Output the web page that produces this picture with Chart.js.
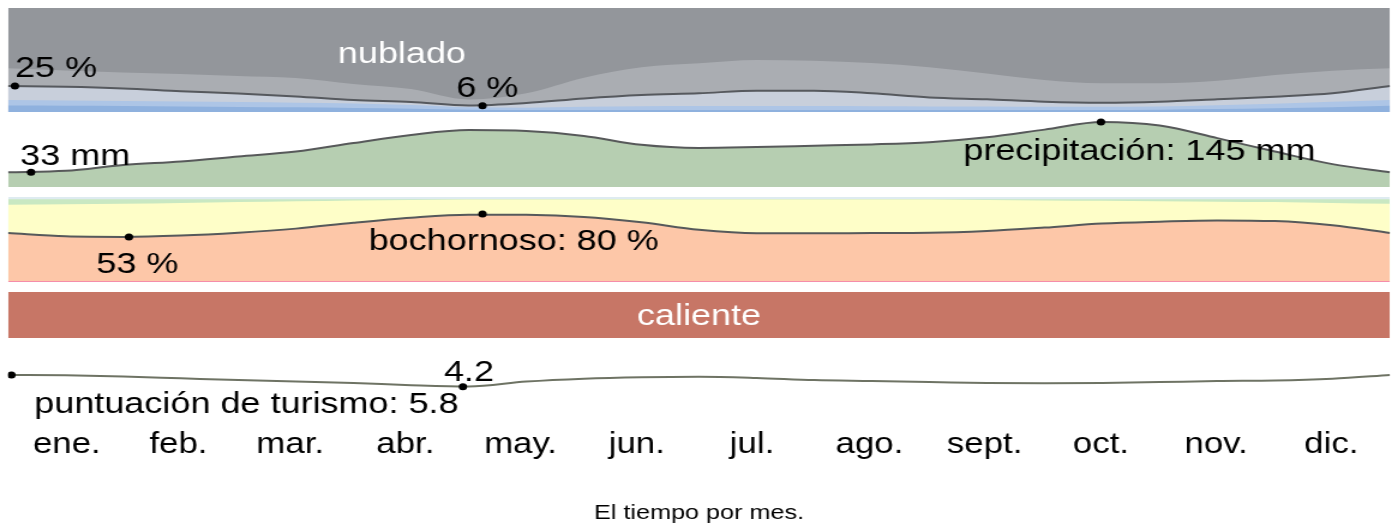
<!DOCTYPE html>
<html lang="es">
<head>
<meta charset="UTF-8">
<title>El tiempo por mes</title>
<script src="https://cdn.jsdelivr.net/npm/chart.js"></script>
<style>
  html, body { margin: 0; padding: 0; background: #fff; overflow: hidden; }
  #wrap { width: 1398px; height: 527px; }
  /* the source picture is stretched sideways, so the canvas gets the same stretch */
  #chart { transform: scaleX(1.2); transform-origin: 0 0; }
</style>
</head>
<body>
<div id="wrap"><canvas id="chart" width="1165" height="527"></canvas></div>
<script>
  // --- data (x in months, 0 = 1 Jan, 12 = 31 Dec) ---
  const months = ['ene.', 'feb.', 'mar.', 'abr.', 'may.', 'jun.', 'jul.', 'ago.', 'sept.', 'oct.', 'nov.', 'dic.'];
  const monthMid = [0.51, 1.48, 2.45, 3.45, 4.45, 5.46, 6.46, 7.48, 8.48, 9.49, 10.49, 11.49];
  const grid = [0, 0.5, 1, 1.5, 2, 2.5, 3, 3.5, 4, 4.5, 5, 5.5, 6, 6.5, 7, 7.5, 8, 8.5, 9, 9.5, 10, 10.5, 11, 11.5, 12];
  const yearEnds = [0, 12];

  // cloud cover, cumulative % from the bottom
  const cloudClear       = [6.2, 6.0, 5.8, 5.3, 4.8, 4.5, 3.8, 3.2, 2.2, 2.0, 2.0, 2.0, 2.0, 2.0, 2.0, 2.0, 2.0, 2.0, 2.0, 2.0, 2.2, 2.8, 3.6, 4.6, 6.0];
  const cloudMostlyClear = [11.5, 11, 10.6, 10, 9.6, 9, 8.2, 6.7, 4.5, 4.2, 5.0, 5.5, 5.8, 5.8, 5.8, 5.6, 5.4, 5.2, 5.0, 5.0, 5.2, 6.5, 8.0, 9.8, 11.5];
  const cloudPartly      = [25, 24.2, 22.6, 20, 17.8, 15, 11.5, 9.6, 6.3, 8.6, 13, 16.3, 18, 20.5, 20.5, 18, 14, 12.2, 9.9, 9.0, 9.9, 12.2, 14.7, 18, 25];
  const cloudMostly      = [42, 40, 38, 36.5, 34.6, 32.7, 27, 22, 12, 18, 33, 43, 46.8, 50, 49.3, 47, 43, 37, 30.8, 27.6, 27.6, 30, 35.6, 39.7, 42];
  const cloudOvercast    = [100, 100];

  // rain, mm
  const rainMm = [33, 36, 49, 57, 68, 79, 98, 116, 127, 125, 114, 94, 87, 89, 92, 95, 100, 111, 128, 145, 137, 109, 79, 51, 33];

  // humidity comfort, cumulative % from the bottom
  const humMiserable = [1, 1];
  const humMuggy     = [57.6, 53.7, 53, 54.6, 58, 62.8, 69.8, 75.7, 79.2, 79, 76.6, 70.2, 61.4, 57.3, 57.3, 57.6, 57.9, 60, 64, 68.7, 71, 72.5, 71.7, 66.7, 57.6];
  const humComfort   = [91, 91.5, 92, 93, 94, 95, 96, 96.5, 97, 97, 97, 97, 97, 97, 97, 97, 97, 96.5, 96, 95.5, 95, 94.5, 94, 93, 92];
  const humDry       = [97.5, 97.5];
  const humTop       = [100, 100];

  // temperature band ("caliente" all year)
  const hotBand = [1, 1];

  // tourism score
  const tourism = [5.8, 5.75, 5.6, 5.35, 5.1, 4.9, 4.7, 4.4, 4.22, 4.9, 5.3, 5.5, 5.57, 5.4, 5.1, 4.98, 4.85, 4.7, 4.66, 4.7, 4.83, 4.98, 5.05, 5.3, 5.8];

  // min / max markers: [month, value]
  const cloudMarks = [[0.06, 25], [4.12, 6]];
  const rainMarks = [[0.2, 33], [9.49, 145]];
  const humMarks = [[1.05, 53], [4.12, 80]];
  const tourMarks = [[0.03, 5.8], [3.95, 4.2]];

  // --- layout of the bands (pixels inside the canvas) ---
  const PLOT_TOP = 8, PLOT_BOTTOM = 392;
  function bandRange(topPx, botPx, lo, hi) {
    const s = (botPx - topPx) / (hi - lo);
    return { min: lo - (PLOT_BOTTOM - botPx) / s, max: hi + (topPx - PLOT_TOP) / s };
  }

  const FONT = '"Liberation Sans", Arial, sans-serif';
  const bigFont = '30px ' + FONT;

  const pts = (xs, ys) => ys.map((v, i) => ({ x: xs[i], y: v }));
  const marks = list => list.map(p => ({ x: p[0], y: p[1] }));

  function area(axis, xs, ys, color, order, line) {
    return {
      data: pts(xs, ys), yAxisID: axis, order: order,
      backgroundColor: color, fill: 'origin',
      borderColor: line || color, borderWidth: line ? 2 : 0,
      pointRadius: 0, cubicInterpolationMode: 'monotone'
    };
  }
  function dots(axis, list) {
    return {
      data: marks(list), yAxisID: axis, order: 0, showLine: false,
      pointRadius: 3.5, pointBackgroundColor: '#000', pointBorderWidth: 0
    };
  }

  const bandLabels = [
    { text: 'nublado', axis: 'yCloud', at: [3.42, 58], dx: 0, dy: 3, color: '#fff' },
    { text: '25 %', axis: 'yCloud', at: cloudMarks[0], dx: 0, dy: -17, align: 'left' },
    { text: '6 %', axis: 'yCloud', at: cloudMarks[1], dx: 4, dy: -17 },
    { text: '33 mm', axis: 'yRain', at: rainMarks[0], dx: -9, dy: -15, align: 'left' },
    { text: 'precipitación: 145 mm', axis: 'yRain', at: rainMarks[1], dx: 32, dy: 30 },
    { text: '53 %', axis: 'yHum', at: humMarks[0], dx: 7, dy: 28 },
    { text: 'bochornoso: 80 %', axis: 'yHum', at: humMarks[1], dx: 26, dy: 28 },
    { text: 'caliente', axis: 'yHot', at: [6.0, 0.5], dx: 0, dy: 2, color: '#fff' },
    { text: '4.2', axis: 'yTour', at: tourMarks[1], dx: 5, dy: -14 },
    { text: 'puntuación de turismo: 5.8', axis: 'yTour', at: tourMarks[0], dx: 19, dy: 30, align: 'left' }
  ];

  const labelPlugin = {
    id: 'bandLabels',
    afterDatasetsDraw(chart) {
      const ctx = chart.ctx;
      ctx.save();
      ctx.textBaseline = 'middle';
      ctx.font = bigFont;
      bandLabels.forEach(l => {
        const x = chart.scales.x.getPixelForValue(l.at[0]) + l.dx;
        const y = chart.scales[l.axis].getPixelForValue(l.at[1]) + l.dy;
        ctx.fillStyle = l.color || '#000';
        ctx.textAlign = l.align || 'center';
        ctx.fillText(l.text, x, y);
      });
      ctx.restore();
    }
  };

  const hidden = r => Object.assign({ display: false }, r);

  new Chart(document.getElementById('chart'), {
    type: 'line',
    data: {
      datasets: [
        // clouds
        area('yCloud', yearEnds, cloudOvercast, '#93969b', 14),
        area('yCloud', grid, cloudMostly, '#aaadb2', 13),
        area('yCloud', grid, cloudPartly, '#c8cfdb', 12, '#56595e'),
        area('yCloud', grid, cloudMostlyClear, '#adc5e6', 11),
        area('yCloud', grid, cloudClear, '#8fb1de', 10),
        // rain
        area('yRain', grid, rainMm, '#b6ceb1', 9, '#57595a'),
        // humidity
        area('yHum', yearEnds, humTop, '#deebf0', 8),
        area('yHum', yearEnds, humDry, '#c9e8c2', 7),
        area('yHum', grid, humComfort, '#fefec8', 6),
        area('yHum', grid, humMuggy, '#fdc7a8', 5, '#56595b'),
        area('yHum', yearEnds, humMiserable, '#f27aab', 4),
        // temperature
        area('yHot', yearEnds, hotBand, '#c77666', 3),
        // tourism
        {
          data: pts(grid, tourism), yAxisID: 'yTour', order: 2, fill: false,
          borderColor: '#6e7364', borderWidth: 2, pointRadius: 0,
          cubicInterpolationMode: 'monotone'
        },
        dots('yCloud', cloudMarks),
        dots('yRain', rainMarks),
        dots('yHum', humMarks),
        dots('yTour', tourMarks)
      ]
    },
    options: {
      responsive: false,
      animation: false,
      events: [],
      layout: { padding: { top: PLOT_TOP, left: 6.67, right: 6.67, bottom: 0 } },
      plugins: { legend: { display: false }, tooltip: { enabled: false } },
      scales: {
        x: {
          type: 'linear', min: 0, max: 12,
          grid: { display: false, drawTicks: false },
          border: { display: false },
          afterBuildTicks: s => { s.ticks = monthMid.map(v => ({ value: v })); },
          afterFit: s => {
            s.height = 527 - PLOT_BOTTOM;
            // month labels sit well inside the plot, no extra side room needed
            s.paddingLeft = 0;
            s.paddingRight = 0;
          },
          ticks: {
            autoSkip: false, maxRotation: 0, padding: 36, color: '#000',
            font: { family: FONT, size: 29 },
            callback: (v, i) => months[i]
          },
          title: {
            display: true, text: 'El tiempo por mes.', color: '#000',
            font: { family: FONT, size: 21 }, padding: { top: 0, bottom: 1 }
          }
        },
        yCloud: hidden(bandRange(8, 112, 0, 100)),
        yRain: hidden(bandRange(122, 187, 0, 145)),
        yHum: hidden(bandRange(197, 282, 0, 100)),
        yHot: hidden(bandRange(292, 338, 0, 1)),
        yTour: hidden(bandRange(375, 386.7, 5.8, 4.2) && {
          min: 4.2 - (PLOT_BOTTOM - 386.7) / ((386.7 - 375) / 1.6),
          max: 5.8 + (375 - PLOT_TOP) / ((386.7 - 375) / 1.6)
        })
      }
    },
    plugins: [labelPlugin]
  });
</script>
</body>
</html>
